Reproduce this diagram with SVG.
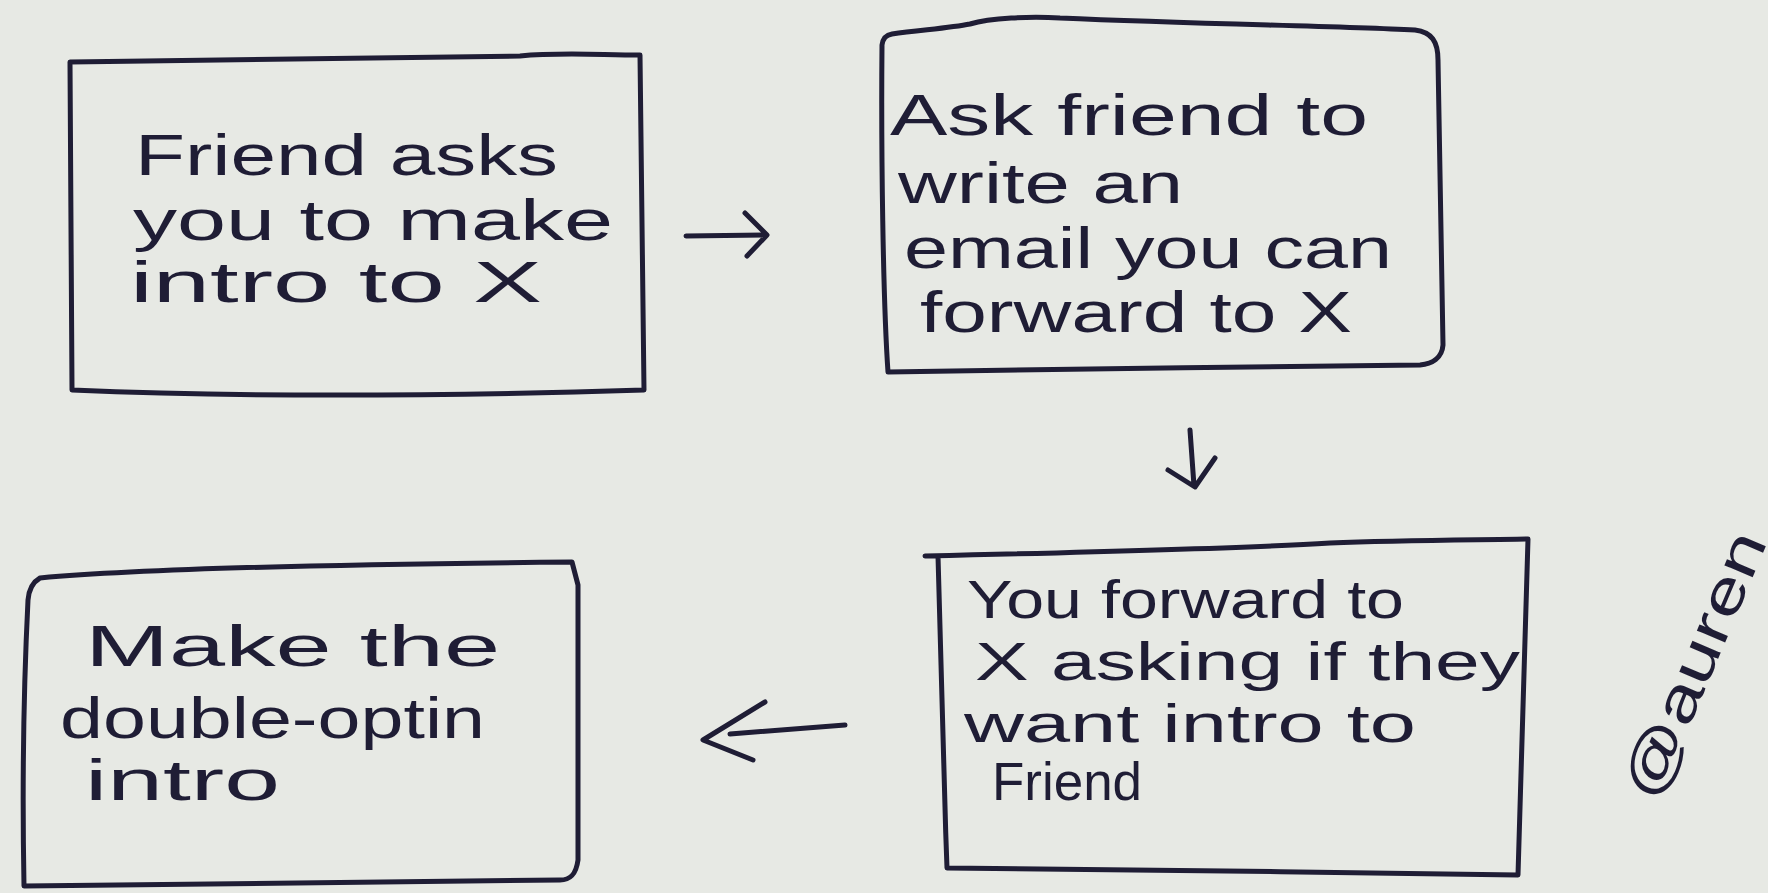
<svg xmlns="http://www.w3.org/2000/svg" width="1768" height="893" viewBox="0 0 1768 893">
<style>
.bg{fill:#e7e9e4}
.box{fill:none;stroke:#1f1d35;stroke-width:5;stroke-linejoin:round;stroke-linecap:round}
.arr{fill:none;stroke:#1f1d35;stroke-width:5;stroke-linejoin:round;stroke-linecap:round}
.t{font-family:"Liberation Sans",Arial,sans-serif;font-size:58px;fill:#1f1d35}
.s{font-size:54px}
</style>
<rect class="bg" x="0" y="0" width="1768" height="893"/>
<g id="node-friend-asks">
<path class="box" d="M70,62 C240,60 420,58 520,56 C560,52 600,55 640,55 L644,390 C450,396 260,398 72,390 Z"/>
<text class="t" x="135" y="175" textLength="423" lengthAdjust="spacingAndGlyphs">Friend asks</text>
<text class="t" x="133" y="240" textLength="480" lengthAdjust="spacingAndGlyphs">you to make</text>
<text class="t" x="130" y="302" textLength="412" lengthAdjust="spacingAndGlyphs">intro to X</text>
</g>
<g id="node-ask-friend">
<path class="box" d="M892,34 C920,30 950,28 970,24 C990,18 1030,16 1060,18 C1200,24 1330,26 1415,30 C1432,32 1438,42 1438,60 L1443,345 C1442,358 1432,364 1420,365 C1250,366 1050,370 888,372 C883,300 881,150 882,45 C883,38 886,35 892,34 Z"/>
<text class="t" x="890" y="135" textLength="478" lengthAdjust="spacingAndGlyphs">Ask friend to</text>
<text class="t" x="898" y="203" textLength="285" lengthAdjust="spacingAndGlyphs">write an</text>
<text class="t" x="904" y="268" textLength="488" lengthAdjust="spacingAndGlyphs">email you can</text>
<text class="t" x="920" y="332" textLength="432" lengthAdjust="spacingAndGlyphs">forward to X</text>
</g>
<g id="node-forward-to-x">
<path class="box" d="M925,556 C1100,552 1250,548 1330,543 C1400,540 1470,540 1528,539 L1518,875 C1330,872 1130,870 947,868 C943,760 940,650 938,556"/>
<text class="t s" x="967" y="618" textLength="437" lengthAdjust="spacingAndGlyphs">You forward to</text>
<text class="t s" x="975" y="680" textLength="545" lengthAdjust="spacingAndGlyphs">X asking if they</text>
<text class="t s" x="964" y="742" textLength="452" lengthAdjust="spacingAndGlyphs">want intro to</text>
<text class="t s" x="992" y="800" textLength="150" lengthAdjust="spacingAndGlyphs">Friend</text>
</g>
<g id="node-double-optin">
<path class="box" d="M40,578 C150,568 350,564 572,562 L578,585 L578,860 C576,875 570,880 560,880 C380,882 200,884 24,886 C22,780 24,680 28,600 C29,588 33,582 40,578 Z"/>
<text class="t" x="85" y="666" textLength="415" lengthAdjust="spacingAndGlyphs">Make the</text>
<text class="t" x="60" y="738" textLength="425" lengthAdjust="spacingAndGlyphs">double-optin</text>
<text class="t" x="85" y="800" textLength="195" lengthAdjust="spacingAndGlyphs">intro</text>
</g>
<g id="connectors">
<path class="arr" d="M686,236 L766,235 M745,213 L767,235 L747,256"/>
<path class="arr" d="M1190,430 L1194,486 M1168,470 L1195,487 L1215,458"/>
<path class="arr" d="M845,725 L730,734 M765,702 L703,740 L753,760"/>
</g>
<g id="signature">
<text class="t" transform="translate(1692,664) rotate(-67)" x="0" y="22" text-anchor="middle" font-size="68" textLength="285" lengthAdjust="spacingAndGlyphs">@auren</text>
</g>
</svg>
